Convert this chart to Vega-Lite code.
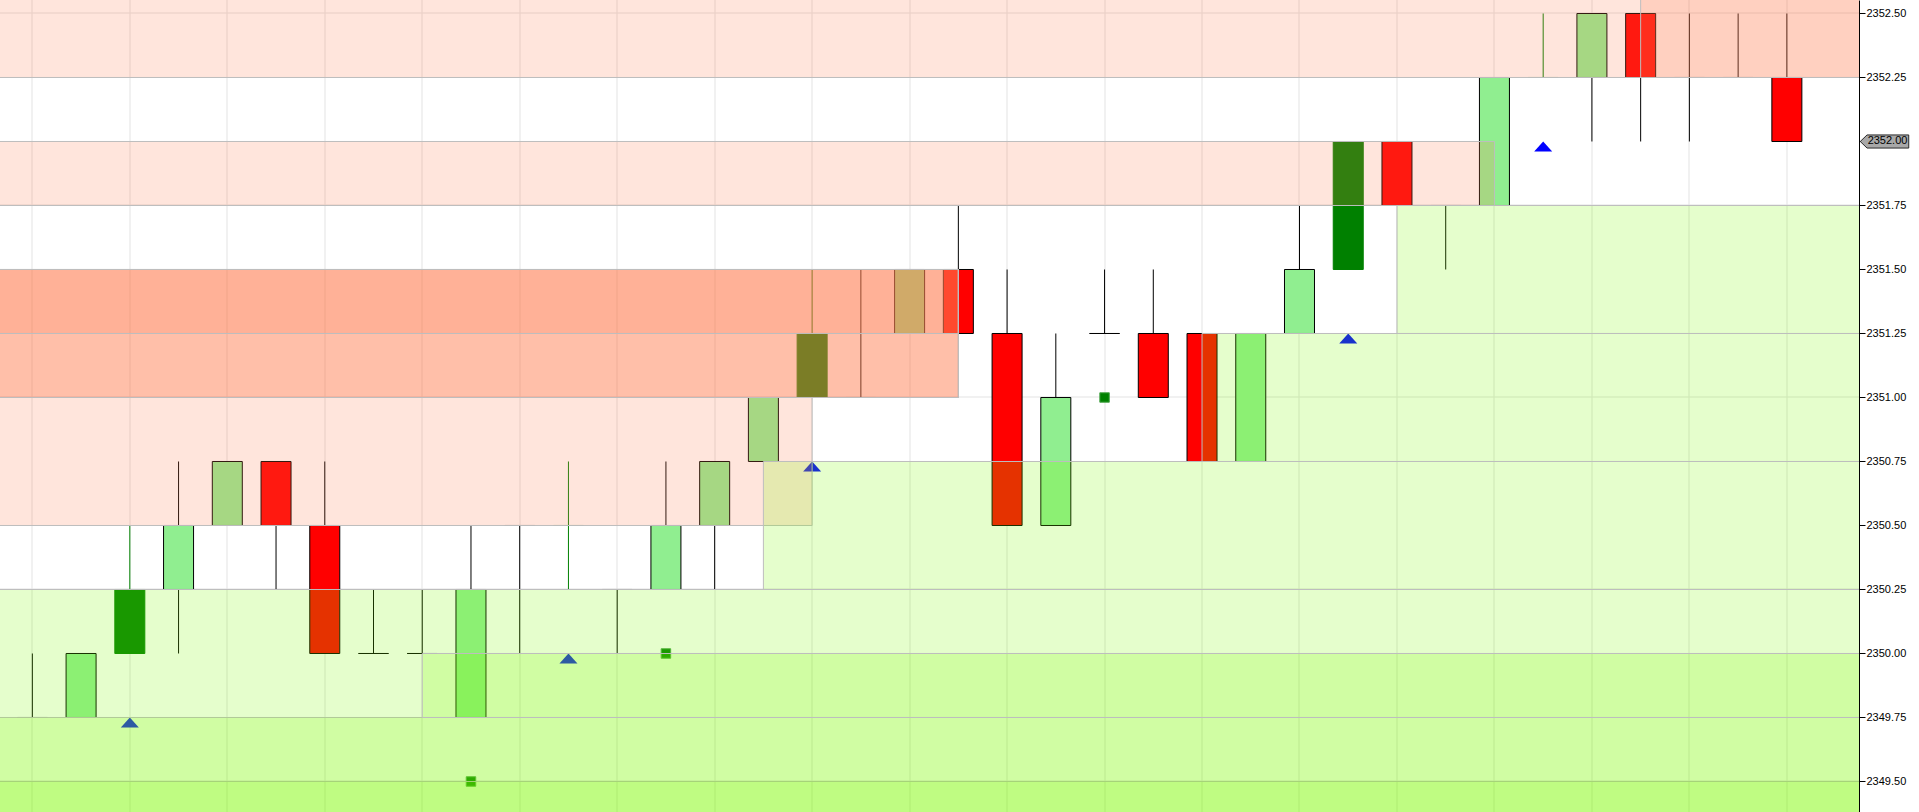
{
  "$schema": "https://vega.github.io/schema/vega-lite/v6.json",
  "width": 1859,
  "height": 812,
  "autosize": {"type": "none"},
  "padding": {"left": 0, "top": 0, "right": 60, "bottom": 0},
  "background": "white",
  "config": {"view": {"stroke": null}},
  "datasets": {
    "candles": [
      {"bar": 0, "open": 2349.75, "high": 2350.00, "low": 2349.75, "close": 2349.75, "kind": "flat"},
      {"bar": 1, "open": 2349.75, "high": 2350.00, "low": 2349.75, "close": 2350.00, "kind": "up"},
      {"bar": 2, "open": 2350.00, "high": 2350.50, "low": 2350.00, "close": 2350.25, "kind": "strong"},
      {"bar": 3, "open": 2350.25, "high": 2350.75, "low": 2350.00, "close": 2350.50, "kind": "up"},
      {"bar": 4, "open": 2350.50, "high": 2350.75, "low": 2350.50, "close": 2350.75, "kind": "up"},
      {"bar": 5, "open": 2350.75, "high": 2350.75, "low": 2350.25, "close": 2350.50, "kind": "down"},
      {"bar": 6, "open": 2350.50, "high": 2350.75, "low": 2350.00, "close": 2350.00, "kind": "down"},
      {"bar": 7, "open": 2350.00, "high": 2350.25, "low": 2350.00, "close": 2350.00, "kind": "flat"},
      {"bar": 8, "open": 2350.00, "high": 2350.25, "low": 2350.00, "close": 2350.00, "kind": "flat"},
      {"bar": 9, "open": 2349.75, "high": 2350.50, "low": 2349.75, "close": 2350.25, "kind": "up"},
      {"bar": 10, "open": 2350.50, "high": 2350.50, "low": 2350.00, "close": 2350.50, "kind": "flat"},
      {"bar": 11, "open": 2350.50, "high": 2350.75, "low": 2350.25, "close": 2350.50, "kind": "strong"},
      {"bar": 12, "open": 2350.25, "high": 2350.25, "low": 2350.00, "close": 2350.25, "kind": "flat"},
      {"bar": 13, "open": 2350.25, "high": 2350.75, "low": 2350.25, "close": 2350.50, "kind": "up"},
      {"bar": 14, "open": 2350.50, "high": 2350.75, "low": 2350.25, "close": 2350.75, "kind": "up"},
      {"bar": 15, "open": 2350.75, "high": 2351.00, "low": 2350.75, "close": 2351.00, "kind": "up"},
      {"bar": 16, "open": 2351.00, "high": 2351.50, "low": 2351.00, "close": 2351.25, "kind": "strong"},
      {"bar": 17, "open": 2351.00, "high": 2351.50, "low": 2351.00, "close": 2351.00, "kind": "flat"},
      {"bar": 18, "open": 2351.25, "high": 2351.50, "low": 2351.25, "close": 2351.50, "kind": "up"},
      {"bar": 19, "open": 2351.50, "high": 2351.75, "low": 2351.25, "close": 2351.25, "kind": "down"},
      {"bar": 20, "open": 2351.25, "high": 2351.50, "low": 2350.50, "close": 2350.50, "kind": "down"},
      {"bar": 21, "open": 2350.50, "high": 2351.25, "low": 2350.50, "close": 2351.00, "kind": "up"},
      {"bar": 22, "open": 2351.25, "high": 2351.50, "low": 2351.25, "close": 2351.25, "kind": "flat"},
      {"bar": 23, "open": 2351.25, "high": 2351.50, "low": 2351.00, "close": 2351.00, "kind": "down"},
      {"bar": 24, "open": 2351.25, "high": 2351.25, "low": 2350.75, "close": 2350.75, "kind": "down"},
      {"bar": 25, "open": 2350.75, "high": 2351.25, "low": 2350.75, "close": 2351.25, "kind": "up"},
      {"bar": 26, "open": 2351.25, "high": 2351.75, "low": 2351.25, "close": 2351.50, "kind": "up"},
      {"bar": 27, "open": 2351.50, "high": 2352.00, "low": 2351.50, "close": 2352.00, "kind": "strong"},
      {"bar": 28, "open": 2352.00, "high": 2352.00, "low": 2351.75, "close": 2351.75, "kind": "down"},
      {"bar": 29, "open": 2351.75, "high": 2351.75, "low": 2351.50, "close": 2351.75, "kind": "flat"},
      {"bar": 30, "open": 2351.75, "high": 2352.25, "low": 2351.75, "close": 2352.25, "kind": "up"},
      {"bar": 31, "open": 2352.25, "high": 2352.50, "low": 2352.25, "close": 2352.25, "kind": "strong"},
      {"bar": 32, "open": 2352.25, "high": 2352.50, "low": 2352.00, "close": 2352.50, "kind": "up"},
      {"bar": 33, "open": 2352.50, "high": 2352.50, "low": 2352.00, "close": 2352.25, "kind": "down"},
      {"bar": 34, "open": 2352.25, "high": 2352.50, "low": 2352.00, "close": 2352.25, "kind": "flat"},
      {"bar": 35, "open": 2352.25, "high": 2352.50, "low": 2352.25, "close": 2352.25, "kind": "flat"},
      {"bar": 36, "open": 2352.25, "high": 2352.50, "low": 2352.00, "close": 2352.00, "kind": "down"}
    ],
    "markers": [
      {"bar": 2, "price": 2349.75, "marker": "signal"},
      {"bar": 11, "price": 2350.00, "marker": "signal"},
      {"bar": 16, "price": 2350.75, "marker": "signal"},
      {"bar": 27, "price": 2351.25, "marker": "signal"},
      {"bar": 31, "price": 2352.00, "marker": "signal"},
      {"bar": 9, "price": 2349.50, "marker": "dot"},
      {"bar": 13, "price": 2350.00, "marker": "dot"},
      {"bar": 22, "price": 2351.00, "marker": "dot"}
    ],
    "zones": [
      {"side": "supply", "start": -2, "end": 40, "lo": 2352.25, "hi": 2352.75},
      {"side": "supply", "start": 33, "end": 40, "lo": 2352.25, "hi": 2352.75},
      {"side": "supply", "start": -2, "end": 30, "lo": 2351.75, "hi": 2352.00},
      {"side": "supply", "start": -2, "end": 19, "lo": 2351.00, "hi": 2351.50},
      {"side": "supply", "start": -2, "end": 19, "lo": 2351.00, "hi": 2351.50},
      {"side": "supply", "start": -2, "end": 19, "lo": 2351.00, "hi": 2351.50},
      {"side": "supply", "start": -2, "end": 19, "lo": 2351.25, "hi": 2351.50},
      {"side": "supply", "start": -2, "end": 16, "lo": 2350.50, "hi": 2351.00},
      {"side": "demand", "start": -2, "end": 40, "lo": 2349.00, "hi": 2349.50},
      {"side": "demand", "start": -2, "end": 40, "lo": 2349.00, "hi": 2349.75},
      {"side": "demand", "start": -2, "end": 40, "lo": 2349.00, "hi": 2350.25},
      {"side": "demand", "start": 8, "end": 40, "lo": 2349.75, "hi": 2350.00},
      {"side": "demand", "start": 15, "end": 40, "lo": 2350.25, "hi": 2350.75},
      {"side": "demand", "start": 24, "end": 40, "lo": 2350.75, "hi": 2351.25},
      {"side": "demand", "start": 28, "end": 40, "lo": 2351.25, "hi": 2351.75}
    ]
  },
  "resolve": {"axis": {"y": "independent"}},
  "layer": [
    {
      "data": {"name": "candles"},
      "mark": {"type": "rule", "strokeWidth": 1},
      "encoding": {
        "x": {"field": "bar", "type": "quantitative",
              "scale": {"domain": [-0.561224, 37.377551], "nice": false, "zero": false},
              "axis": {"orient": "bottom", "grid": true, "gridColor": "#E3E3E3", "gridWidth": 1, "translate": 0,
                       "values": [0,2,4,6,8,10,12,14,16,18,20,22,24,26,28,30,32,34,36],
                       "labels": false, "ticks": false, "domain": false, "title": null}},
        "y": {"field": "low", "type": "quantitative",
              "scale": {"domain": [2349.380859, 2352.552734], "nice": false, "zero": false},
              "axis": {"orient": "left", "grid": true, "gridColor": "#E3E3E3", "gridWidth": 1, "translate": 0,
                       "values": [2349.5, 2350.25, 2351.0, 2351.75, 2352.5],
                       "labels": false, "ticks": false, "domain": false, "title": null}},
        "y2": {"field": "high"},
        "stroke": {"field": "kind", "type": "nominal", "legend": null,
                   "scale": {"domain": ["up", "strong", "down", "flat"], "range": ["#000000", "#008000", "#000000", "#000000"]}}
      }
    },
    {
      "data": {"name": "candles"},
      "mark": {"type": "bar", "size": 30, "strokeWidth": 1, "opacity": 1},
      "encoding": {
        "x": {"field": "bar", "type": "quantitative",
              "scale": {"domain": [-0.561224, 37.377551], "nice": false, "zero": false}},
        "y": {"field": "open", "type": "quantitative",
              "scale": {"domain": [2349.380859, 2352.552734], "nice": false, "zero": false},
              "axis": {"orient": "right", "grid": false, "title": null, "format": ".2f",
                       "values": [2349.5, 2349.75, 2350.0, 2350.25, 2350.5, 2350.75, 2351.0, 2351.25, 2351.5, 2351.75, 2352.0, 2352.25, 2352.5],
                       "labelFont": "Liberation Sans", "labelFontSize": 11, "labelColor": "#000000",
                       "tickColor": "#000000", "tickSize": 6, "tickWidth": 1,
                       "domainColor": "#000000", "domainWidth": 1, "labelPadding": 1,
                       "labelOverlap": false, "labelBound": false, "labelFlush": false}},
        "y2": {"field": "close"},
        "fill": {"field": "kind", "type": "nominal", "legend": null,
                 "scale": {"domain": ["up", "strong", "down", "flat", "supply", "demand"],
                           "range": ["#90EE90", "#008000", "#FF0000", "#000000", "#FF7F50", "#7CFC00"]}},
        "stroke": {"field": "kind", "type": "nominal", "legend": null,
                   "scale": {"domain": ["up", "strong", "down", "flat"], "range": ["#000000", "#008000", "#000000", "#000000"]}}
      }
    },
    {
      "data": {"name": "markers"},
      "transform": [{"filter": "datum.marker == 'signal'"}],
      "mark": {"type": "point", "shape": "M0,0L1,1.1L-1,1.1Z", "size": 324, "filled": true, "fill": "#0000FF", "opacity": 1, "strokeWidth": 0},
      "encoding": {
        "x": {"field": "bar", "type": "quantitative", "scale": {"domain": [-0.561224, 37.377551], "nice": false, "zero": false}},
        "y": {"field": "price", "type": "quantitative", "scale": {"domain": [2349.380859, 2352.552734], "nice": false, "zero": false}, "axis": null}
      }
    },
    {
      "data": {"name": "markers"},
      "transform": [{"filter": "datum.marker == 'dot'"}],
      "mark": {"type": "point", "shape": "square", "size": 90, "filled": true, "fill": "#008000", "stroke": "#4DA64D", "strokeWidth": 1, "opacity": 1},
      "encoding": {
        "x": {"field": "bar", "type": "quantitative", "scale": {"domain": [-0.561224, 37.377551], "nice": false, "zero": false}},
        "y": {"field": "price", "type": "quantitative", "scale": {"domain": [2349.380859, 2352.552734], "nice": false, "zero": false}, "axis": null}
      }
    },
    {
      "data": {"name": "zones"},
      "mark": {"type": "rect", "clip": true, "fillOpacity": 0.2, "stroke": "#BEBEBE", "strokeWidth": 1, "strokeOpacity": 1},
      "encoding": {
        "x": {"field": "start", "type": "quantitative", "scale": {"domain": [-0.561224, 37.377551], "nice": false, "zero": false}},
        "x2": {"field": "end"},
        "y": {"field": "lo", "type": "quantitative", "scale": {"domain": [2349.380859, 2352.552734], "nice": false, "zero": false}, "axis": null},
        "y2": {"field": "hi"},
        "fill": {"field": "side", "type": "nominal", "legend": null,
                 "scale": {"domain": ["up", "strong", "down", "flat", "supply", "demand"],
                           "range": ["#90EE90", "#008000", "#FF0000", "#000000", "#FF7F50", "#7CFC00"]}}
      }
    },
    {
      "data": {"name": "candles"},
      "transform": [{"filter": "datum.bar == 36"}],
      "mark": {"type": "point", "shape": "M-1,0L-0.72,-0.27L1,-0.27L1,0.27L-0.72,0.27Z", "size": 2352, "filled": true,
               "fill": "#A8A8A8", "stroke": "#2A2A2A", "strokeWidth": 1, "opacity": 1, "xOffset": 25.5},
      "encoding": {
        "x": {"value": "width"},
        "y": {"field": "close", "type": "quantitative", "scale": {"domain": [2349.380859, 2352.552734], "nice": false, "zero": false}, "axis": null}
      }
    },
    {
      "data": {"name": "candles"},
      "transform": [{"filter": "datum.bar == 36"}],
      "mark": {"type": "text", "font": "Liberation Sans", "fontSize": 11, "fill": "#000000", "align": "center", "baseline": "middle", "xOffset": 28.5},
      "encoding": {
        "x": {"value": "width"},
        "y": {"field": "close", "type": "quantitative", "scale": {"domain": [2349.380859, 2352.552734], "nice": false, "zero": false}, "axis": null},
        "text": {"field": "close", "type": "quantitative", "format": ".2f"}
      }
    }
  ]
}
